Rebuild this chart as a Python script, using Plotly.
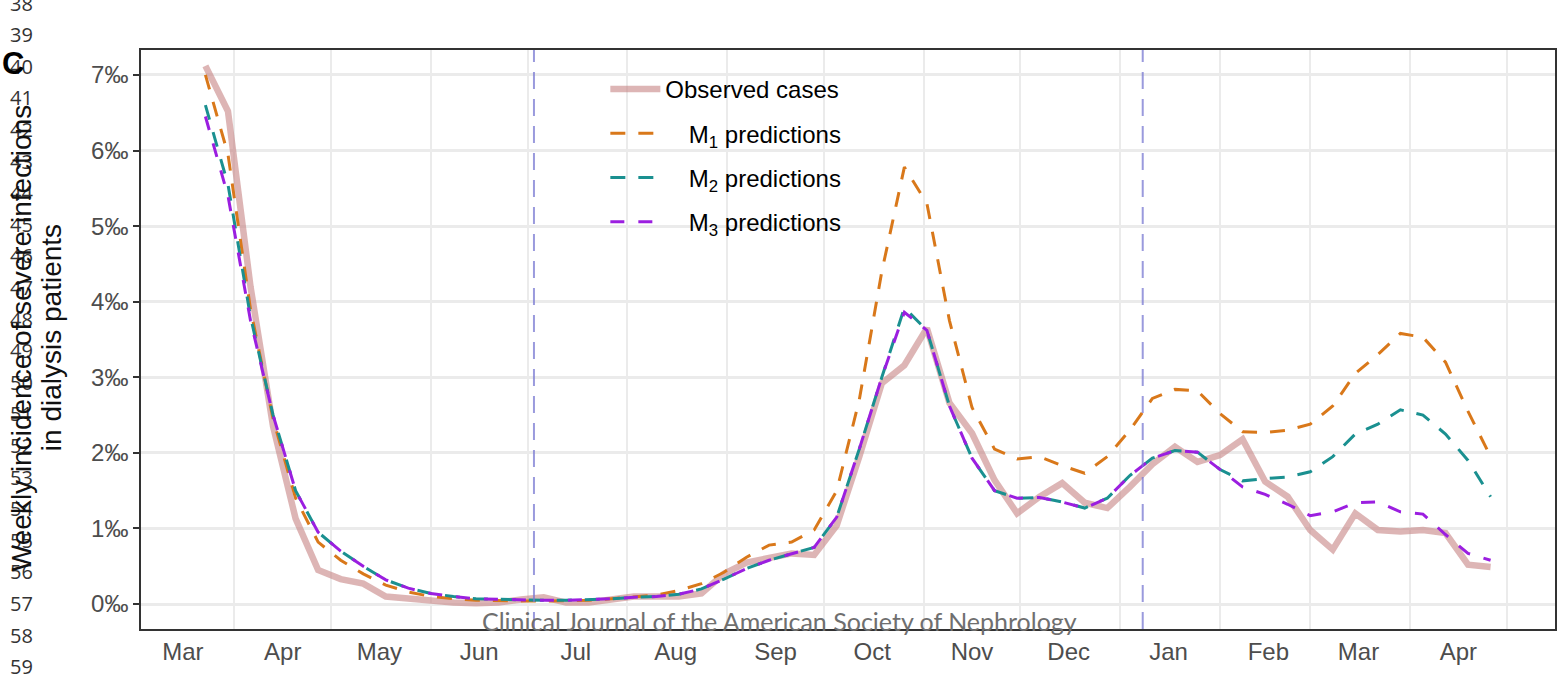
import pandas as pd
import plotly.graph_objects as go

# ---------------- data (per-mille weekly incidence) ----------------
start_week = "2020-03-23"
observed = [7.12, 6.52, 4.20, 2.35, 1.13, 0.45, 0.33, 0.27, 0.10, 0.07,
            0.04, 0.02, 0.01, 0.02, 0.06, 0.09, 0.02, 0.02, 0.06, 0.10,
            0.10, 0.10, 0.14, 0.40, 0.55, 0.60, 0.67, 0.65, 1.04, 1.95,
            2.92, 3.16, 3.65, 2.66, 2.26, 1.64, 1.20, 1.42, 1.60, 1.34,
            1.27, 1.55, 1.85, 2.08, 1.88, 1.97, 2.18, 1.62, 1.42, 0.98,
            0.72, 1.20, 0.98, 0.96, 0.98, 0.94, 0.52, 0.49]
m1_pred = [7.00, 5.95, 3.90, 2.45, 1.40, 0.82, 0.58, 0.40, 0.25, 0.16,
           0.10, 0.07, 0.05, 0.04, 0.04, 0.04, 0.04, 0.05, 0.07, 0.09,
           0.12, 0.18, 0.27, 0.42, 0.62, 0.78, 0.82, 0.98, 1.50, 2.70,
           4.40, 5.78, 5.30, 3.75, 2.60, 2.05, 1.92, 1.95, 1.83, 1.73,
           1.95, 2.30, 2.72, 2.84, 2.82, 2.52, 2.28, 2.27, 2.30, 2.38,
           2.62, 3.05, 3.30, 3.58, 3.53, 3.20, 2.55, 1.95]
m2_pred = [6.60, 5.55, 3.80, 2.50, 1.50, 0.95, 0.70, 0.50, 0.32, 0.21,
           0.14, 0.10, 0.07, 0.06, 0.05, 0.05, 0.05, 0.06, 0.07, 0.09,
           0.10, 0.13, 0.20, 0.33, 0.47, 0.58, 0.66, 0.75, 1.15, 2.05,
           3.00, 3.92, 3.62, 2.62, 1.93, 1.50, 1.40, 1.41, 1.35, 1.27,
           1.40, 1.70, 1.93, 2.03, 2.01, 1.78, 1.63, 1.66, 1.68, 1.75,
           1.95, 2.25, 2.38, 2.57, 2.50, 2.25, 1.90, 1.42]
m3_pred = [6.45, 5.40, 3.75, 2.50, 1.50, 0.95, 0.70, 0.50, 0.32, 0.21,
           0.14, 0.10, 0.07, 0.06, 0.05, 0.05, 0.05, 0.06, 0.07, 0.09,
           0.10, 0.13, 0.20, 0.33, 0.47, 0.58, 0.66, 0.75, 1.15, 2.05,
           3.00, 3.86, 3.62, 2.62, 1.93, 1.50, 1.40, 1.41, 1.35, 1.27,
           1.40, 1.70, 1.93, 2.03, 2.01, 1.78, 1.55, 1.45, 1.32, 1.17,
           1.22, 1.34, 1.35, 1.22, 1.19, 0.92, 0.67, 0.58]
period_breaks = ["2020-07-03", "2021-01-08"]
month_labels = ["Mar", "Apr", "May", "Jun", "Jul", "Aug", "Sep", "Oct",
                "Nov", "Dec", "Jan", "Feb", "Mar", "Apr"]
month_label_dates = ["2020-03-16", "2020-04-16", "2020-05-16", "2020-06-16",
                     "2020-07-16", "2020-08-16", "2020-09-16", "2020-10-16",
                     "2020-11-16", "2020-12-16", "2021-01-16", "2021-02-16",
                     "2021-03-16", "2021-04-16"]
y_ticks = [0, 1, 2, 3, 4, 5, 6, 7]
line_numbers = list(range(38, 60))
y_title_lines = ["Weekly incidence of severe infections", "in dialysis patients"]

dates = pd.date_range(start_week, periods=len(observed), freq="7D")

# ---------------- layout helpers ----------------
W, H = 1558, 675
L, R, T, B = 141, 1557, 50, 629


def px_x(p):
    return (p - L) / (R - L)


def px_y(p):
    return (B - p) / (B - T)


FONT = "Liberation Sans, Arial, Helvetica, sans-serif"
DASH = "15px,13px"
PAD = "\u2002\u00a0\u2009"  # right-align the model labels like the reference

fig = go.Figure()
fig.add_trace(go.Scatter(
    x=dates, y=observed, mode="lines", name="Observed cases",
    line=dict(color="rgba(200,135,135,0.62)", width=6.5), legendgroup="a"))
fig.add_trace(go.Scatter(
    x=dates, y=m1_pred, mode="lines", name=PAD + "M<sub>1</sub> predictions",
    line=dict(color="#d9781a", width=3, dash=DASH), legendgroup="b"))
fig.add_trace(go.Scatter(
    x=dates, y=m2_pred, mode="lines", name=PAD + "M<sub>2</sub> predictions",
    line=dict(color="#1a9090", width=3, dash=DASH), legendgroup="c"))
fig.add_trace(go.Scatter(
    x=dates, y=m3_pred, mode="lines", name=PAD + "M<sub>3</sub> predictions",
    line=dict(color="#9b1ee0", width=3, dash="14px,14px"), legendgroup="d"))

for d in period_breaks:
    fig.add_shape(type="line", xref="x", yref="paper", x0=d, x1=d, y0=0, y1=1,
                  line=dict(color="rgba(120,120,210,0.75)", width=2, dash="17px,10px"),
                  layer="above")

annotations = []
# manuscript line numbers in the left margin
for i, n in enumerate(line_numbers):
    annotations.append(dict(
        xref="paper", yref="paper", x=px_x(21), y=px_y(3 + i * 31.6),
        text=str(n), showarrow=False, xanchor="center", yanchor="middle",
        font=dict(family="Open Sans, Liberation Sans, sans-serif", size=20, color="#333333")))
# y-axis title (two lines)
for xc, line in zip([21, 51], y_title_lines):
    annotations.append(dict(
        xref="paper", yref="paper", x=px_x(xc), y=px_y(338),
        text=line, textangle=-90, showarrow=False, xanchor="center", yanchor="middle",
        font=dict(family=FONT, size=28, color="#111111")))
# panel letter
annotations.append(dict(
    xref="paper", yref="paper", x=px_x(13), y=px_y(63), text="<b>C</b>",
    showarrow=False, xanchor="center", yanchor="middle",
    font=dict(family=FONT, size=31, color="#000000")))
# watermark
annotations.append(dict(
    xref="paper", yref="paper", x=px_x(780), y=px_y(621),
    text="Clinical Journal of the American Society of Nephrology",
    showarrow=False, xanchor="center", yanchor="middle",
    font=dict(family="Lato, Open Sans, sans-serif", size=25, color="#6f6f6f")))

fig.update_layout(
    width=W, height=H,
    margin=dict(l=L, r=W - R, t=T, b=H - B, pad=0),
    paper_bgcolor="white", plot_bgcolor="white",
    font=dict(family=FONT, size=24, color="#4d4d4d"),
    showlegend=True,
    legend=dict(x=px_x(606), y=px_y(67), xanchor="left", yanchor="top",
                bgcolor="rgba(0,0,0,0)", font=dict(family=FONT, size=24, color="#000000"),
                itemwidth=50, tracegroupgap=10, traceorder="grouped"),
    annotations=annotations,
)
fig.update_xaxes(
    type="date", range=["2020-03-03", "2021-05-16"],
    tickmode="array", tickvals=month_label_dates, ticktext=month_labels,
    ticks="", showgrid=False, zeroline=False,
    tickfont=dict(family=FONT, size=24, color="#4d4d4d"),
    showline=True, linecolor="#333333", linewidth=1.5, mirror=True,
    minor=dict(tickmode="linear", tick0="2020-03-01", dtick="M1",
               showgrid=True, gridcolor="#ebebeb", gridwidth=1.5, ticks=""),
)
fig.update_yaxes(
    range=[-0.33, 7.33], tickmode="array", tickvals=y_ticks,
    ticktext=[f"{v}‰" for v in y_ticks],
    ticks="outside", ticklen=6, tickwidth=2, tickcolor="#333333",
    showgrid=True, gridcolor="#ebebeb", gridwidth=2.5, zeroline=False,
    tickfont=dict(family=FONT, size=24, color="#4d4d4d"),
    showline=True, linecolor="#333333", linewidth=1.5, mirror=True,
)

fig.write_html("out.html", config={"displayModeBar": False},
               post_script="document.body.style.margin='0px';")
